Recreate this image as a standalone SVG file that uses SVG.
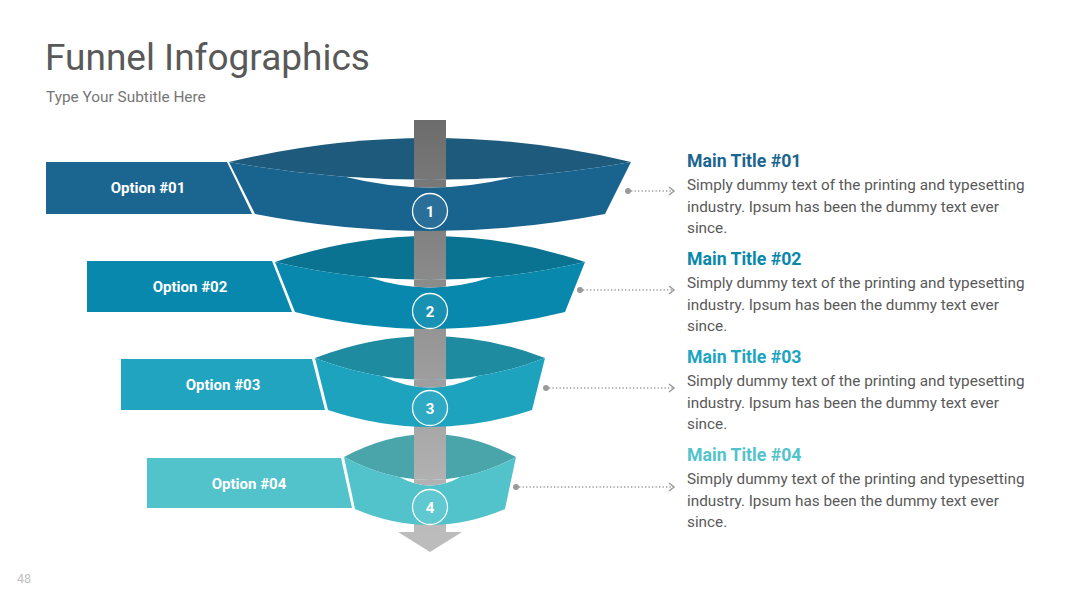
<svg xmlns="http://www.w3.org/2000/svg" width="1080" height="608" viewBox="0 0 1080 608">
<defs>
<linearGradient id="pole" gradientUnits="userSpaceOnUse" x1="0" y1="120" x2="0" y2="540">
<stop offset="0" stop-color="#6c6c6c"/>
<stop offset="1" stop-color="#bdbdbd"/>
</linearGradient>
<clipPath id="h1"><path d="M345,176.8 Q430,183.2 515,176.8 Q430,198.2 345,176.8 Z"/></clipPath>
<clipPath id="h2"><path d="M368,277.1 Q430,282.9 492,277.1 Q430,297.9 368,277.1 Z"/></clipPath>
<clipPath id="h3"><path d="M382,376.2 Q430,383.8 478,376.2 Q430,398.8 382,376.2 Z"/></clipPath>
<clipPath id="h4"><path d="M400,477.2 Q430,482.8 460,477.2 Q430,493.8 400,477.2 Z"/></clipPath>
</defs>
<style>
.title{font-family:Roboto,"Liberation Sans",sans-serif;font-size:37px;fill:#595959}
.sub{font-family:Roboto,"Liberation Sans",sans-serif;font-size:15.4px;fill:#767676}
.opt{font-family:Roboto,"Liberation Sans",sans-serif;font-size:15px;font-weight:bold;fill:#ffffff;text-anchor:middle}
.num{font-family:Roboto,"Liberation Sans",sans-serif;font-size:15px;font-weight:bold;fill:#ffffff;text-anchor:middle}
.mt{font-family:Roboto,"Liberation Sans",sans-serif;font-size:17.7px;font-weight:bold}
.body{font-family:Roboto,"Liberation Sans",sans-serif;font-size:15.3px;fill:#595959}
.ring{stroke:#ffffff;stroke-width:1.3}
.hole{fill:#ffffff}
.dots{fill:none;stroke:#9a9a9a;stroke-width:1.3;stroke-dasharray:1.3 2.2}
.chev{fill:none;stroke:#9a9a9a;stroke-width:1.5}
.dot{fill:#9a9a9a}
.pg{font-family:Roboto,"Liberation Sans",sans-serif;font-size:12.5px;fill:#c0c0c0}
</style>
<rect width="1080" height="608" fill="#ffffff"/>
<text class="title" x="45" y="70">Funnel Infographics</text>
<text class="sub" x="46" y="102">Type Your Subtitle Here</text>
<text class="pg" x="17" y="583">48</text>

<g id="backwalls">
<path d="M229,162 Q430,114 631,162 Q430,198 229,162 Z" fill="#1d5a7c"/>
<path d="M275,262 Q430,210 585,262 Q430,298 275,262 Z" fill="#0a7391"/>
<path d="M315,358 Q430,314 545,358 Q430,402 315,358 Z" fill="#1e8ba0"/>
<path d="M344,457 Q430,411 516,457 Q430,503 344,457 Z" fill="#4aa5ab"/>
</g>

<g id="pole">
<rect x="414" y="120" width="32" height="413" fill="url(#pole)"/>
<path d="M398,532 L462,532 L430,552 Z" fill="#bcbcbc"/>
</g>

<g id="node1">
<path d="M46,162 L227,162 L252,214 L46,214 Z" fill="#1b6591"/>
<text class="opt" x="148" y="193">Option #01</text>
<path d="M229,162 Q430,198 631,162 L605,214 Q430,248 255,214 Z" fill="#19648f"/>
<path class="hole" d="M345,176.8 Q430,183.2 515,176.8 Q430,198.2 345,176.8 Z"/>
<rect x="414" y="120" width="32" height="413" fill="url(#pole)" clip-path="url(#h1)"/>
<circle class="ring" cx="430" cy="211" r="17.5" fill="#2a6f99"/>
<text class="num" x="430" y="216.5">1</text>
</g>

<g id="node2">
<path d="M87,261 L272,261 L292,312 L87,312 Z" fill="#0888ad"/>
<text class="opt" x="190" y="292">Option #02</text>
<path d="M275,262 Q430,298 585,262 L565,312 Q430,346 295,312 Z" fill="#0788ac"/>
<path class="hole" d="M368,277.1 Q430,282.9 492,277.1 Q430,297.9 368,277.1 Z"/>
<rect x="414" y="120" width="32" height="413" fill="url(#pole)" clip-path="url(#h2)"/>
<circle class="ring" cx="430" cy="311" r="17.5" fill="#1991b3"/>
<text class="num" x="430" y="316.5">2</text>
</g>

<g id="node3">
<path d="M121,359 L312,359 L325,410 L121,410 Z" fill="#20a4bf"/>
<text class="opt" x="223" y="390">Option #03</text>
<path d="M315,358 Q430,402 545,358 L532,410 Q430,444 328,410 Z" fill="#1ea3bf"/>
<path class="hole" d="M382,376.2 Q430,383.8 478,376.2 Q430,398.8 382,376.2 Z"/>
<rect x="414" y="120" width="32" height="413" fill="url(#pole)" clip-path="url(#h3)"/>
<circle class="ring" cx="430" cy="408" r="17.5" fill="#2eaac5"/>
<text class="num" x="430" y="413.5">3</text>
</g>

<g id="node4">
<path d="M147,458 L341,458 L352,508 L147,508 Z" fill="#53c3cb"/>
<text class="opt" x="249" y="489">Option #04</text>
<path d="M344,457 Q430,503 516,457 L505,509 Q430,541 355,509 Z" fill="#52c2cb"/>
<path class="hole" d="M400,477.2 Q430,482.8 460,477.2 Q430,493.8 400,477.2 Z"/>
<rect x="414" y="120" width="32" height="413" fill="url(#pole)" clip-path="url(#h4)"/>
<circle class="ring" cx="430" cy="507" r="17.5" fill="#60c8d0"/>
<text class="num" x="430" y="512.5">4</text>
</g>

<g id="connectors">
<circle class="dot" cx="628" cy="191" r="3"/>
<path class="dots" d="M631,191 L673,191"/>
<path class="chev" d="M669,187 L674,191 L669,195"/>
<circle class="dot" cx="580" cy="290" r="3"/>
<path class="dots" d="M583,290 L673,290"/>
<path class="chev" d="M669,286 L674,290 L669,294"/>
<circle class="dot" cx="546" cy="388" r="3"/>
<path class="dots" d="M549,388 L673,388"/>
<path class="chev" d="M669,384 L674,388 L669,392"/>
<circle class="dot" cx="516" cy="487" r="3"/>
<path class="dots" d="M519,487 L673,487"/>
<path class="chev" d="M669,483 L674,487 L669,491"/>
</g>

<g id="text1">
<text class="mt" x="687" y="167" fill="#1b6591">Main Title #01</text>
<text class="body" x="687" y="190">Simply dummy text of the printing and typesetting</text>
<text class="body" x="687" y="212">industry. Ipsum has been the dummy text ever</text>
<text class="body" x="687" y="233">since.</text>
</g>
<g id="text2">
<text class="mt" x="687" y="265" fill="#0888ad">Main Title #02</text>
<text class="body" x="687" y="288">Simply dummy text of the printing and typesetting</text>
<text class="body" x="687" y="310">industry. Ipsum has been the dummy text ever</text>
<text class="body" x="687" y="331">since.</text>
</g>
<g id="text3">
<text class="mt" x="687" y="363" fill="#20a4bf">Main Title #03</text>
<text class="body" x="687" y="386">Simply dummy text of the printing and typesetting</text>
<text class="body" x="687" y="408">industry. Ipsum has been the dummy text ever</text>
<text class="body" x="687" y="429">since.</text>
</g>
<g id="text4">
<text class="mt" x="687" y="461" fill="#53c3cb">Main Title #04</text>
<text class="body" x="687" y="484">Simply dummy text of the printing and typesetting</text>
<text class="body" x="687" y="506">industry. Ipsum has been the dummy text ever</text>
<text class="body" x="687" y="527">since.</text>
</g>
</svg>
